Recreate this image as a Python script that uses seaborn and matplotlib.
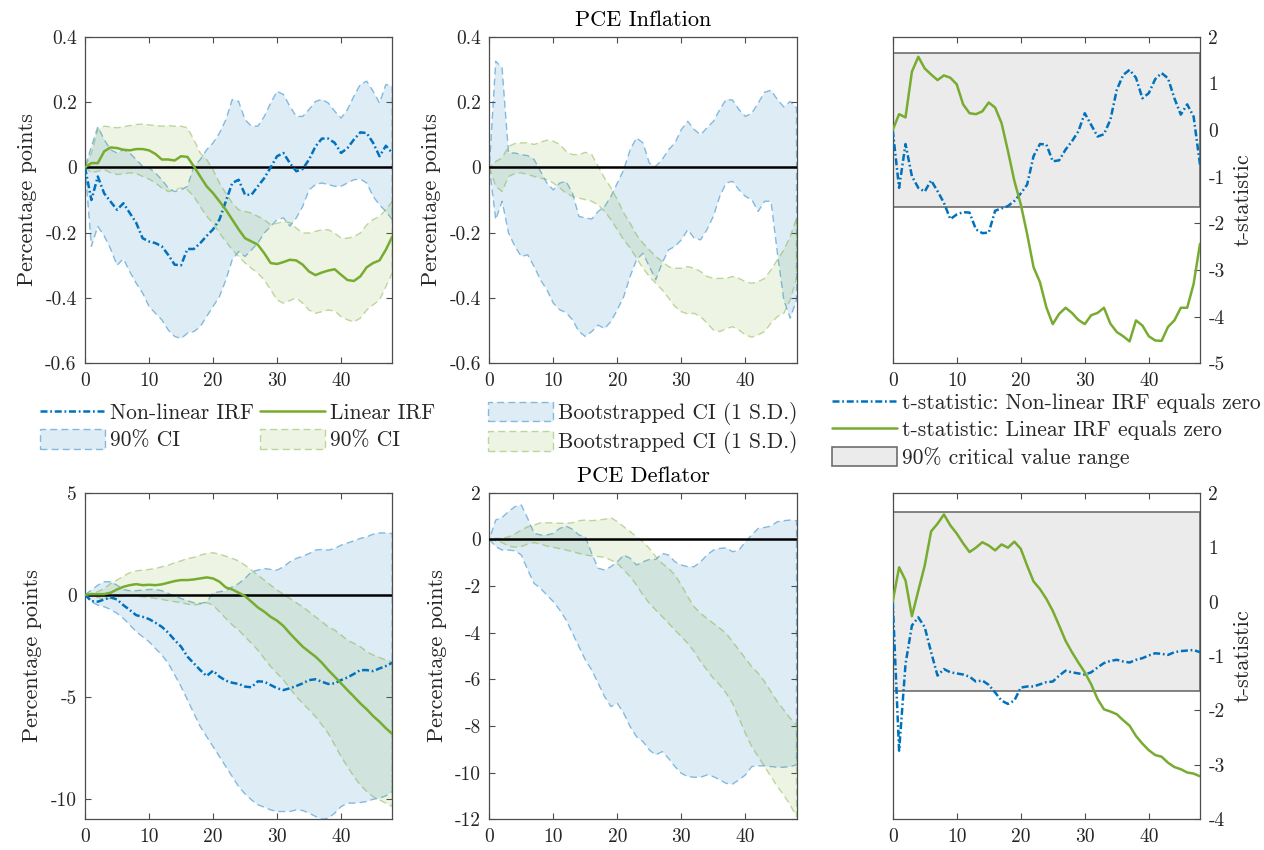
import numpy as np
import pandas as pd
import matplotlib
matplotlib.use("Agg")
import matplotlib.pyplot as plt
from matplotlib.lines import Line2D
from matplotlib.patches import Patch
from matplotlib.ticker import FuncFormatter, FixedLocator
import seaborn as sns

sns.set_theme(style="ticks")
plt.rcParams["font.family"] = ["cmr10", "DejaVu Serif"]
plt.rcParams["mathtext.fontset"] = "cm"
plt.rcParams["axes.unicode_minus"] = False
plt.rcParams["axes.formatter.use_mathtext"] = False

# ---------------------------------------------------------------- data
horizon = list(range(49))

# PCE inflation: impulse responses (percentage points)
infl_nl_irf = [0, -0.10, -0.028, -0.08, -0.105, -0.13, -0.11, -0.14, -0.17, -0.217,
               -0.227, -0.232, -0.242, -0.268, -0.298, -0.30, -0.25, -0.25, -0.232, -0.21,
               -0.19, -0.16, -0.104, -0.048, -0.038, -0.084, -0.084, -0.058, -0.033, 0.0,
               0.034, 0.044, 0.013, -0.012, -0.005, 0.024, 0.064, 0.088, 0.088, 0.075,
               0.044, 0.059, 0.085, 0.107, 0.105, 0.075, 0.034, 0.066, 0.044]
infl_lin_irf = [0, 0.013, 0.013, 0.049, 0.061, 0.059, 0.054, 0.052, 0.056, 0.056,
                0.052, 0.041, 0.024, 0.024, 0.021, 0.034, 0.032, 0.003, -0.028, -0.058,
                -0.079, -0.104, -0.13, -0.16, -0.19, -0.217, -0.227, -0.237, -0.263, -0.293,
                -0.296, -0.29, -0.283, -0.285, -0.298, -0.319, -0.33, -0.322, -0.316, -0.312,
                -0.329, -0.345, -0.348, -0.334, -0.306, -0.293, -0.285, -0.252, -0.212]
infl_nl_ci_hi = [0, 0.064, 0.124, 0.085, 0.054, 0.044, 0.054, 0.044, 0.024, 0.003,
                 -0.002, -0.017, -0.038, -0.063, -0.074, -0.069, -0.058, 0.003, 0.024, 0.054,
                 0.075, 0.105, 0.146, 0.208, 0.202, 0.146, 0.126, 0.126, 0.156, 0.197,
                 0.233, 0.223, 0.187, 0.156, 0.156, 0.177, 0.202, 0.208, 0.197, 0.172,
                 0.151, 0.177, 0.218, 0.254, 0.264, 0.233, 0.197, 0.254, 0.248]
infl_nl_ci_lo = [0, -0.242, -0.181, -0.21, -0.25, -0.30, -0.28, -0.32, -0.355, -0.385,
                 -0.426, -0.447, -0.467, -0.498, -0.518, -0.524, -0.508, -0.503, -0.488, -0.457,
                 -0.426, -0.396, -0.345, -0.283, -0.258, -0.273, -0.253, -0.232, -0.201, -0.181,
                 -0.16, -0.155, -0.18, -0.155, -0.12, -0.069, -0.053, -0.048, -0.053, -0.058,
                 -0.058, -0.048, -0.038, -0.036, -0.048, -0.089, -0.115, -0.135, -0.16]
infl_lin_ci_hi = [0, 0.044, 0.116, 0.126, 0.124, 0.121, 0.124, 0.128, 0.131, 0.133,
                  0.13, 0.128, 0.126, 0.128, 0.126, 0.126, 0.121, 0.085, 0.044, 0.024,
                  -0.007, -0.048, -0.079, -0.109, -0.13, -0.135, -0.14, -0.15, -0.16, -0.176,
                  -0.171, -0.166, -0.169, -0.186, -0.201, -0.201, -0.196, -0.191, -0.191, -0.201,
                  -0.217, -0.217, -0.212, -0.201, -0.176, -0.16, -0.15, -0.13, -0.104]
infl_lin_ci_lo = [0, -0.017, -0.012, -0.007, -0.017, -0.022, -0.02, -0.017, -0.019, -0.028,
                  -0.036, -0.048, -0.063, -0.074, -0.07, -0.063, -0.069, -0.089, -0.12, -0.15,
                  -0.171, -0.201, -0.227, -0.253, -0.273, -0.293, -0.309, -0.324, -0.345, -0.375,
                  -0.406, -0.416, -0.408, -0.40, -0.416, -0.437, -0.447, -0.442, -0.437, -0.44,
                  -0.457, -0.467, -0.473, -0.462, -0.437, -0.421, -0.406, -0.365, -0.324]

# PCE inflation: bootstrapped bands (1 S.D.)
infl_nl_bs_hi = [0, 0.325, 0.305, 0.044, 0.044, 0.039, 0.036, 0.024, -0.012, -0.048,
                 -0.069, -0.048, -0.043, -0.079, -0.15, -0.155, -0.158, -0.135, -0.12, -0.089,
                 -0.048, -0.007, 0.054, 0.09, 0.075, 0.013, 0.003, 0.024, 0.054, 0.075,
                 0.116, 0.141, 0.116, 0.10, 0.121, 0.141, 0.177, 0.208, 0.206, 0.177,
                 0.156, 0.166, 0.197, 0.23, 0.236, 0.208, 0.185, 0.202, 0.182]
infl_nl_bs_lo = [0, -0.16, -0.104, -0.201, -0.242, -0.273, -0.268, -0.304, -0.345, -0.375,
                 -0.416, -0.436, -0.445, -0.467, -0.503, -0.518, -0.503, -0.483, -0.494, -0.472,
                 -0.436, -0.396, -0.334, -0.283, -0.263, -0.304, -0.345, -0.293, -0.253, -0.242,
                 -0.222, -0.191, -0.217, -0.222, -0.191, -0.15, -0.089, -0.048, -0.043, -0.069,
                 -0.089, -0.099, -0.135, -0.104, -0.104, -0.263, -0.406, -0.462, -0.406]
infl_lin_bs_hi = [0, 0.018, 0.029, 0.064, 0.073, 0.075, 0.075, 0.07, 0.077, 0.083,
                  0.08, 0.07, 0.049, 0.039, 0.039, 0.046, 0.039, 0.003, -0.033, -0.063,
                  -0.099, -0.14, -0.171, -0.207, -0.232, -0.253, -0.273, -0.288, -0.304, -0.309,
                  -0.309, -0.304, -0.309, -0.319, -0.334, -0.34, -0.34, -0.34, -0.334, -0.34,
                  -0.35, -0.355, -0.35, -0.34, -0.314, -0.283, -0.253, -0.212, -0.155]
infl_lin_bs_lo = [0, -0.058, -0.074, -0.028, -0.019, -0.017, -0.022, -0.028, -0.033, -0.038,
                  -0.048, -0.063, -0.079, -0.089, -0.094, -0.099, -0.104, -0.115, -0.135, -0.16,
                  -0.191, -0.222, -0.247, -0.278, -0.309, -0.334, -0.355, -0.375, -0.40, -0.426,
                  -0.442, -0.449, -0.447, -0.457, -0.477, -0.498, -0.503, -0.494, -0.488, -0.498,
                  -0.513, -0.52, -0.513, -0.503, -0.477, -0.457, -0.447, -0.406, -0.34]

# PCE inflation: t-statistics
infl_nl_t = [0, -1.24, -0.30, -0.99, -1.24, -1.32, -1.08, -1.31, -1.56, -1.91,
             -1.81, -1.76, -1.77, -2.13, -2.21, -2.20, -1.73, -1.68, -1.63, -1.52,
             -1.36, -1.17, -0.56, -0.30, -0.31, -0.67, -0.65, -0.42, -0.24, -0.03,
             0.36, 0.11, -0.14, -0.09, 0.22, 0.86, 1.18, 1.29, 1.12, 0.68,
             0.79, 1.09, 1.22, 1.11, 0.68, 0.33, 0.55, 0.29, -0.74]
infl_lin_t = [0, 0.34, 0.27, 1.25, 1.57, 1.32, 1.19, 1.07, 1.17, 1.12,
              0.98, 0.55, 0.36, 0.34, 0.40, 0.59, 0.48, 0.15, -0.45, -1.09,
              -1.59, -2.23, -2.94, -3.26, -3.80, -4.16, -3.94, -3.81, -3.92, -4.07,
              -4.16, -3.97, -3.92, -3.81, -4.15, -4.33, -4.42, -4.53, -4.08, -4.19,
              -4.42, -4.51, -4.52, -4.22, -4.08, -3.81, -3.81, -3.30, -2.44]

# PCE deflator: impulse responses (percentage points)
defl_nl_irf = [0, -0.31, -0.34, -0.23, -0.13, -0.23, -0.51, -0.75, -1.00, -1.08,
               -1.19, -1.37, -1.57, -1.86, -2.22, -2.54, -3.03, -3.36, -3.69, -3.98,
               -3.72, -4.01, -4.21, -4.31, -4.37, -4.50, -4.53, -4.24, -4.26, -4.42,
               -4.58, -4.67, -4.58, -4.47, -4.34, -4.18, -4.14, -4.26, -4.37, -4.34,
               -4.18, -4.05, -3.88, -3.69, -3.69, -3.74, -3.61, -3.49, -3.33]
defl_lin_irf = [0, 0.03, 0.03, 0.03, 0.10, 0.26, 0.39, 0.47, 0.52, 0.47,
                0.49, 0.47, 0.51, 0.59, 0.67, 0.72, 0.72, 0.75, 0.80, 0.85,
                0.80, 0.64, 0.36, 0.26, 0.10, -0.07, -0.34, -0.62, -0.83, -1.08,
                -1.27, -1.53, -1.89, -2.22, -2.54, -2.79, -3.03, -3.33, -3.69, -4.01,
                -4.34, -4.67, -4.99, -5.32, -5.61, -5.94, -6.22, -6.54, -6.82]
defl_nl_ci_hi = [0, 0.23, 0.47, 0.64, 0.64, 0.47, 0.26, 0.20, 0.20, 0.23,
                 0.26, 0.26, 0.20, 0.07, -0.07, -0.18, -0.29, -0.39, -0.42, -0.36,
                 0.10, 0.15, 0.20, 0.39, 0.55, 0.80, 1.13, 1.21, 1.29, 1.24,
                 1.21, 1.37, 1.62, 1.78, 1.89, 2.02, 2.19, 2.22, 2.19, 2.27,
                 2.43, 2.54, 2.64, 2.76, 2.84, 2.97, 3.03, 3.03, 3.00]
defl_nl_ci_lo = [0, -0.34, -0.51, -0.59, -0.72, -0.91, -1.16, -1.48, -1.81, -2.06,
                 -2.30, -2.63, -2.95, -3.36, -3.92, -4.50, -5.15, -5.81, -6.46, -6.95,
                 -7.44, -7.93, -8.42, -8.91, -9.40, -9.76, -10.05, -10.29, -10.41, -10.54,
                 -10.62, -10.62, -10.62, -10.54, -10.57, -10.70, -10.86, -11.00, -10.95, -10.70,
                 -10.38, -10.21, -10.21, -10.18, -10.13, -10.02, -9.97, -9.85, -9.64]
defl_lin_ci_hi = [0, 0.07, 0.15, 0.31, 0.55, 0.72, 0.91, 1.08, 1.17, 1.21,
                  1.24, 1.29, 1.37, 1.45, 1.57, 1.66, 1.78, 1.83, 1.94, 2.02,
                  2.06, 1.99, 1.89, 1.78, 1.66, 1.45, 1.21, 0.96, 0.72, 0.47,
                  0.23, 0.03, -0.18, -0.39, -0.59, -0.83, -1.08, -1.32, -1.57, -1.73,
                  -1.97, -2.22, -2.38, -2.54, -2.79, -2.95, -3.07, -3.20, -3.28]
defl_lin_ci_lo = [0, -0.07, -0.13, -0.23, -0.18, -0.10, -0.07, -0.02, -0.07, -0.10,
                  -0.13, -0.18, -0.23, -0.29, -0.34, -0.39, -0.46, -0.51, -0.46, -0.39,
                  -0.51, -0.83, -1.16, -1.48, -1.73, -2.06, -2.38, -2.71, -3.12, -3.52,
                  -3.85, -4.18, -4.58, -4.99, -5.32, -5.64, -5.97, -6.38, -6.79, -7.36,
                  -7.93, -8.42, -8.91, -9.31, -9.64, -9.89, -10.05, -10.21, -10.38]

# PCE deflator: bootstrapped bands (1 S.D.)
defl_nl_bs_hi = [0, 0.83, 0.94, 1.19, 1.40, 1.47, 0.90, 0.26, 0.19, 0.19,
                 0.26, 0.47, 0.57, 0.43, 0.19, 0.11, -0.60, -1.24, -1.31, -1.17,
                 -0.96, -0.67, -0.81, -1.10, -0.96, -0.86, -0.86, -0.60, -0.67, -0.96,
                 -1.10, -1.17, -1.17, -0.96, -0.67, -0.46, -0.39, -0.36, -0.53, -0.46,
                 -0.10, 0.19, 0.47, 0.51, 0.57, 0.76, 0.80, 0.83, 0.80]
defl_nl_bs_lo = [0, -0.31, -0.46, -0.46, -0.49, -0.67, -1.31, -1.89, -2.10, -2.39,
                 -2.67, -3.03, -3.46, -4.03, -4.60, -5.17, -5.60, -6.17, -6.74, -7.17,
                 -7.03, -7.46, -8.03, -8.46, -8.67, -9.03, -9.24, -9.10, -9.39, -9.74,
                 -10.03, -10.17, -10.20, -10.20, -10.10, -10.17, -10.31, -10.46, -10.49, -10.31,
                 -10.10, -9.74, -9.71, -9.71, -9.74, -9.77, -9.77, -9.74, -9.67]
defl_lin_bs_hi = [0, 0.04, 0.04, 0.11, 0.23, 0.40, 0.54, 0.61, 0.71, 0.71,
                  0.71, 0.69, 0.69, 0.71, 0.80, 0.83, 0.80, 0.83, 0.86, 0.93,
                  0.76, 0.54, 0.33, 0.11, -0.10, -0.39, -0.74, -1.03, -1.24, -1.53,
                  -1.96, -2.46, -2.89, -3.17, -3.39, -3.60, -3.81, -4.03, -4.39, -4.74,
                  -5.10, -5.46, -5.74, -6.10, -6.53, -6.96, -7.31, -7.67, -7.96]
defl_lin_bs_lo = [0, -0.06, -0.14, -0.29, -0.34, -0.31, -0.20, -0.14, -0.20, -0.29,
                  -0.34, -0.40, -0.46, -0.53, -0.60, -0.67, -0.71, -0.74, -0.77, -0.89,
                  -1.03, -1.31, -1.60, -1.96, -2.39, -2.74, -3.03, -3.31, -3.60, -3.89,
                  -4.17, -4.46, -4.81, -5.24, -5.60, -5.96, -6.24, -6.60, -7.03, -7.67,
                  -8.31, -8.89, -9.31, -9.74, -10.17, -10.60, -10.96, -11.39, -11.89]

# PCE deflator: t-statistics
defl_nl_t = [0, -2.74, -1.15, -0.44, -0.29, -0.47, -0.93, -1.36, -1.24, -1.30,
             -1.32, -1.34, -1.38, -1.47, -1.45, -1.53, -1.67, -1.82, -1.88, -1.82,
             -1.58, -1.56, -1.56, -1.52, -1.48, -1.47, -1.36, -1.27, -1.30, -1.32,
             -1.34, -1.30, -1.21, -1.13, -1.09, -1.07, -1.10, -1.12, -1.07, -1.04,
             -0.99, -0.95, -0.96, -0.98, -0.93, -0.91, -0.90, -0.89, -0.93]
defl_lin_t = [0, 0.63, 0.39, -0.27, 0.20, 0.66, 1.29, 1.43, 1.60, 1.40,
              1.25, 1.07, 0.91, 0.99, 1.09, 1.03, 0.94, 1.05, 0.99, 1.10,
              0.97, 0.66, 0.37, 0.23, 0.05, -0.17, -0.44, -0.72, -0.93, -1.12,
              -1.30, -1.52, -1.79, -1.98, -2.02, -2.07, -2.18, -2.28, -2.47, -2.61,
              -2.73, -2.82, -2.85, -2.96, -3.04, -3.08, -3.14, -3.16, -3.21]

critical_value = 1.645

row_titles = ["PCE Inflation", "PCE Deflator"]
irf_ylims = [(-0.6, 0.4), (-11, 5)]
irf_yticks = [[-0.6, -0.4, -0.2, 0, 0.2, 0.4], [-10, -5, 0, 5]]
bs_ylims = [(-0.6, 0.4), (-12, 2)]
bs_yticks = [[-0.6, -0.4, -0.2, 0, 0.2, 0.4], [-12, -10, -8, -6, -4, -2, 0, 2]]
t_ylims = [(-5, 2), (-4, 2)]
t_yticks = [[-5, -4, -3, -2, -1, 0, 1, 2], [-4, -3, -2, -1, 0, 1, 2]]
x_ticks = [0, 10, 20, 30, 40]

# ---------------------------------------------------------------- styles
BLUE = (0.0, 0.447, 0.741)
GREEN = (0.466, 0.674, 0.188)
FILL_A = 0.13
EDGE_A = 0.45
TXT = "#262626"
SPINE = "#4d4d4d"
TICK_FS = 14
LAB_FS = 16
LEG_FS = 15.5
DASHDOT = (0, (2.8, 1.1, 0.7, 1.1))
EDGE_DASH = (0, (5, 3))
LW = 1.8

fig = plt.figure(figsize=(12.64, 8.5), dpi=100)
W, H = 1264.0, 850.0
col_left = [85, 489.3, 892.7]
ax_w = 307.3
row_top = [36.7, 492.7]
ax_h = 326.6


def make_ax(r, c):
    return fig.add_axes([col_left[c] / W, 1 - (row_top[r] + ax_h) / H, ax_w / W, ax_h / H])


fmt = FuncFormatter(lambda v, p: f"{v:g}")


def style_ax(ax, ylim, yticks, right=False):
    ax.set_xlim(0, 48)
    ax.set_ylim(*ylim)
    ax.xaxis.set_major_locator(FixedLocator(x_ticks))
    ax.yaxis.set_major_locator(FixedLocator(yticks))
    ax.xaxis.set_major_formatter(fmt)
    ax.yaxis.set_major_formatter(fmt)
    for s in ax.spines.values():
        s.set_visible(True)
        s.set_color(SPINE)
        s.set_linewidth(0.9)
    ax.tick_params(axis="x", direction="in", length=4, width=0.8, color=SPINE,
                   labelsize=TICK_FS, labelcolor=TXT, top=True, bottom=True, pad=6)
    if right:
        ax.yaxis.tick_right()
        ax.yaxis.set_label_position("right")
        ax.tick_params(axis="y", direction="in", length=4, width=0.8, color=SPINE,
                       labelsize=TICK_FS, labelcolor=TXT, left=False, right=True,
                       labelleft=False, labelright=True, pad=6)
    else:
        ax.tick_params(axis="y", direction="in", length=4, width=0.8, color=SPINE,
                       labelsize=TICK_FS, labelcolor=TXT, left=True, right=True, pad=6)
    ax.set_xlabel("")
    ax.grid(False)


def band(ax, lo, hi, color):
    ax.fill_between(horizon, lo, hi, facecolor=(*color, FILL_A),
                    edgecolor=(*color, EDGE_A), linestyle=EDGE_DASH, linewidth=1.0)


def line(ax, y, color, ls):
    df = pd.DataFrame({"h": horizon, "v": y})
    sns.lineplot(data=df, x="h", y="v", ax=ax, color=color, linestyle=ls,
                 linewidth=LW, legend=False, zorder=4)


irf_sets = [
    (infl_nl_irf, infl_lin_irf, infl_nl_ci_lo, infl_nl_ci_hi, infl_lin_ci_lo, infl_lin_ci_hi),
    (defl_nl_irf, defl_lin_irf, defl_nl_ci_lo, defl_nl_ci_hi, defl_lin_ci_lo, defl_lin_ci_hi),
]
bs_sets = [
    (infl_nl_bs_lo, infl_nl_bs_hi, infl_lin_bs_lo, infl_lin_bs_hi),
    (defl_nl_bs_lo, defl_nl_bs_hi, defl_lin_bs_lo, defl_lin_bs_hi),
]
t_sets = [(infl_nl_t, infl_lin_t), (defl_nl_t, defl_lin_t)]

for r in range(2):
    # impulse responses with 90% bands
    ax = make_ax(r, 0)
    nl, lin, nlo, nhi, llo, lhi = irf_sets[r]
    band(ax, nlo, nhi, BLUE)
    band(ax, llo, lhi, GREEN)
    ax.axhline(0, color="black", linewidth=1.8, zorder=3)
    line(ax, nl, BLUE, DASHDOT)
    line(ax, lin, GREEN, "-")
    style_ax(ax, irf_ylims[r], irf_yticks[r])
    ax.set_ylabel("Percentage points", fontsize=LAB_FS, color=TXT, labelpad=6)

    # bootstrapped bands
    ax = make_ax(r, 1)
    nlo, nhi, llo, lhi = bs_sets[r]
    band(ax, nlo, nhi, BLUE)
    band(ax, llo, lhi, GREEN)
    ax.axhline(0, color="black", linewidth=1.8, zorder=3)
    style_ax(ax, bs_ylims[r], bs_yticks[r])
    ax.set_ylabel("Percentage points", fontsize=LAB_FS, color=TXT, labelpad=6)
    ax.set_title(row_titles[r], fontsize=LAB_FS, color="black", pad=8)

    # t-statistics
    ax = make_ax(r, 2)
    ax.axhspan(-critical_value, critical_value, facecolor="#ebebeb",
               edgecolor="#6e6e6e", linewidth=1.2, zorder=1)
    tn, tl = t_sets[r]
    line(ax, tn, BLUE, DASHDOT)
    line(ax, tl, GREEN, "-")
    style_ax(ax, t_ylims[r], t_yticks[r], right=True)
    ax.set_ylabel("t-statistic", fontsize=LAB_FS, color=TXT, labelpad=6)

# ---------------------------------------------------------------- legends
def blue_patch():
    return Patch(facecolor=(*BLUE, FILL_A), edgecolor=(*BLUE, EDGE_A),
                 linestyle=EDGE_DASH, linewidth=1.0)


def green_patch():
    return Patch(facecolor=(*GREEN, FILL_A), edgecolor=(*GREEN, EDGE_A),
                 linestyle=EDGE_DASH, linewidth=1.0)


leg_kw = dict(frameon=False, fontsize=LEG_FS, handlelength=3.0, handleheight=1.0,
              handletextpad=0.25, labelspacing=0.3, borderaxespad=0, borderpad=0)

h1 = [Line2D([], [], color=BLUE, linestyle=DASHDOT, linewidth=LW), blue_patch(),
      Line2D([], [], color=GREEN, linewidth=LW), green_patch()]
fig.legend(h1, ["Non-linear IRF", "90% CI", "Linear IRF", "90% CI"], ncol=2,
           columnspacing=0.3, loc="upper left", bbox_to_anchor=(40 / W, 1 - 402 / H),
           **leg_kw)

h2 = [blue_patch(), green_patch()]
fig.legend(h2, ["Bootstrapped CI (1 S.D.)", "Bootstrapped CI (1 S.D.)"],
           loc="upper left", bbox_to_anchor=(488 / W, 1 - 402 / H), **leg_kw)

h3 = [Line2D([], [], color=BLUE, linestyle=DASHDOT, linewidth=LW),
      Line2D([], [], color=GREEN, linewidth=LW),
      Patch(facecolor="#ebebeb", edgecolor="#6e6e6e", linewidth=1.2)]
fig.legend(h3, ["t-statistic: Non-linear IRF equals zero",
                "t-statistic: Linear IRF equals zero",
                "90% critical value range"],
           loc="upper left", bbox_to_anchor=(832 / W, 1 - 392 / H), **leg_kw)

fig.savefig("out.png", dpi=100, facecolor="white")
